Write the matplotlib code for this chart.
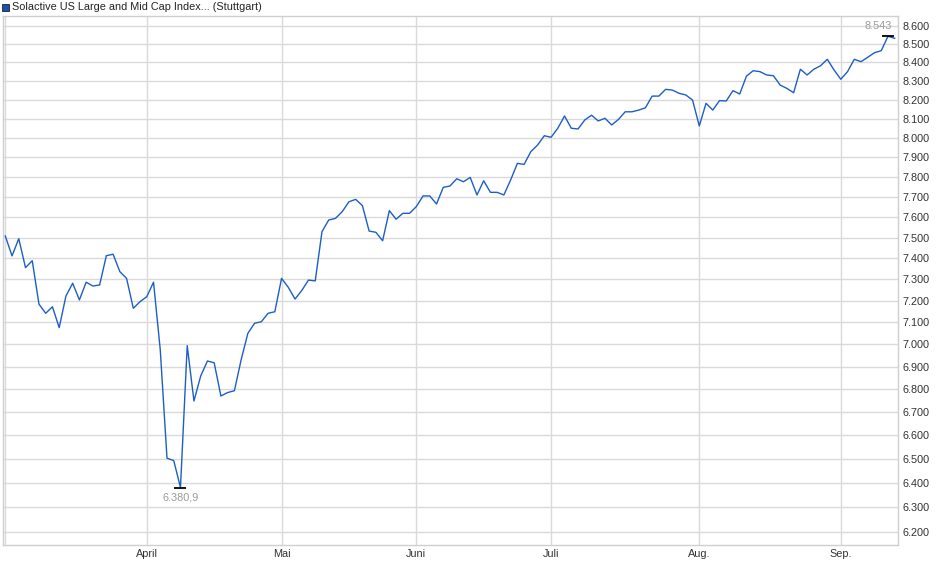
import matplotlib
matplotlib.use("Agg")
import matplotlib.pyplot as plt
from matplotlib.ticker import FixedLocator, NullLocator, FuncFormatter
from matplotlib.patches import Rectangle

# ---------------- data ----------------
title = "Solactive US Large and Mid Cap Index... (Stuttgart)"

prices = [
    7508, 7412, 7495, 7356, 7389, 7184, 7142, 7172, 7076, 7222,
    7282, 7204, 7287, 7269, 7274, 7413, 7420, 7337, 7305, 7165,
    7196, 7219, 7287, 6975, 6503, 6493, 6380.9, 6994, 6748, 6858,
    6925, 6917, 6770, 6785, 6793, 6930, 7050, 7096, 7103, 7142,
    7149, 7305, 7263, 7208, 7248, 7297, 7293, 7529, 7586, 7594,
    7627, 7676, 7688, 7657, 7532, 7526, 7485, 7632, 7590, 7619,
    7619, 7652, 7705, 7705, 7665, 7748, 7755, 7791, 7776, 7798,
    7710, 7781, 7723, 7723, 7710, 7785, 7869, 7864, 7929, 7963,
    8011, 8003, 8050, 8114, 8050, 8046, 8093, 8118, 8088, 8102,
    8067, 8096, 8136, 8136, 8145, 8157, 8219, 8219, 8255, 8251,
    8234, 8225, 8198, 8062, 8181, 8145, 8195, 8193, 8248, 8230,
    8326, 8355, 8350, 8332, 8328, 8278, 8260, 8237, 8363, 8332,
    8363, 8382, 8417, 8359, 8309, 8350, 8417, 8404, 8428, 8453,
    8464, 8543, 8532,
]

month_labels = ["", "April", "Mai", "Juni", "Juli", "Aug.", "Sep."]
month_start_idx = [0, 21, 41, 61, 81, 103, 124]
y_ticks = list(range(6200, 8601, 100))
min_label = "6.380,9"
max_label = "8.543"

# ---------------- style ----------------
plt.rcParams["font.family"] = ["Liberation Sans", "DejaVu Sans"]
LINE = "#1d5ec6"
GRID = "#dadada"
TXT = "#333333"
FS = 7.8

fig = plt.figure(figsize=(9.4, 5.79), dpi=100)
W, H = 940, 579
ax = fig.add_axes([3 / W, 1 - 545 / H, (898 - 3) / W, (545 - 16) / H])

x = list(range(len(prices)))
ax.plot(x, prices, color=LINE, linewidth=1.0, zorder=3)

ax.set_yscale("log")
ax.set_ylim(6148, 8656)
ax.set_xlim(-0.34, len(prices) - 0.51)

ax.yaxis.set_major_locator(FixedLocator(y_ticks))
ax.yaxis.set_minor_locator(NullLocator())
ax.yaxis.set_major_formatter(
    FuncFormatter(lambda v, p: f"{v:,.0f}".replace(",", ".")))
ax.yaxis.tick_right()

ax.xaxis.set_major_locator(FixedLocator(month_start_idx))
ax.xaxis.set_minor_locator(NullLocator())
ax.set_xticklabels(month_labels)

ax.tick_params(axis="both", length=0, labelsize=FS, colors=TXT)
ax.tick_params(axis="y", pad=3)
ax.tick_params(axis="x", pad=3)

ax.grid(True, color=GRID, linewidth=1.0, zorder=0)
for s in ax.spines.values():
    s.set_color("#cfcfcf")
    s.set_linewidth(1.0)

# min / max markers
imin = prices.index(min(prices))
imax = prices.index(max(prices))
ax.plot([imin], [prices[imin]], marker="_", ms=9, mew=1.3, color="black", zorder=4)
ax.plot([imax], [prices[imax]], marker="_", ms=9, mew=1.3, color="black", zorder=4)
ax.annotate(min_label, (imin, prices[imin]), xytext=(0, -3.5),
            textcoords="offset points", ha="center", va="top",
            fontsize=FS, color="#9a9a9a")
ax.annotate(max_label, (imax, prices[imax]), xytext=(3, 3.5),
            textcoords="offset points", ha="right", va="bottom",
            fontsize=FS, color="#9a9a9a")

# legend header
fig.patches.append(Rectangle((2 / W, 1 - 11 / H), 7 / W, 7 / H,
                             transform=fig.transFigure, facecolor="#1a4fb8",
                             edgecolor="#222222", linewidth=0.6))
fig.text(11.5 / W, 1 - 6.5 / H, title, fontsize=FS, color="#222222",
         va="center", ha="left")

fig.savefig("out.png", dpi=100)
